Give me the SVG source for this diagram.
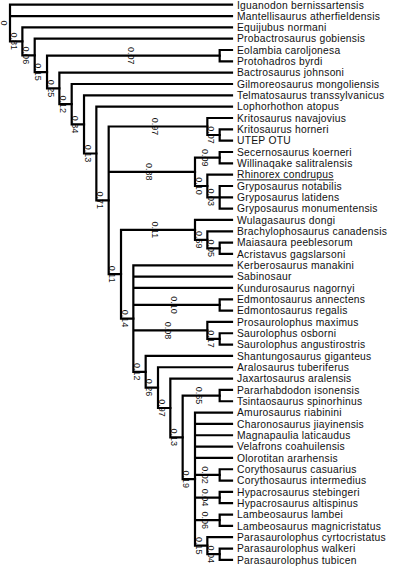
<svg xmlns="http://www.w3.org/2000/svg" width="394" height="567" viewBox="0 0 394 567">
<style>
.t{font-family:"Liberation Sans",Arial,sans-serif;font-size:10.3px;letter-spacing:0.25px;fill:#111}
.s{font-family:"Liberation Sans",Arial,sans-serif;font-size:9px;fill:#111;text-anchor:middle}
.c{fill:none;stroke:#000;stroke-width:2.2;stroke-linecap:square}
</style>
<rect width="394" height="567" fill="#fff"/>
<g id="support">
<text class="s" transform="translate(1.3,23.04) rotate(90)">0</text>
<text class="s" transform="translate(10.5,41.37) rotate(90)">0.81</text>
<text class="s" transform="translate(22.8,55.38) rotate(90)">0.06</text>
<text class="s" transform="translate(35.2,72.07) rotate(90)">0.15</text>
<text class="s" transform="translate(47.5,88.45) rotate(90)">0.25</text>
<text class="s" transform="translate(59.8,104.22) rotate(90)">0.12</text>
<text class="s" transform="translate(72.2,124.43) rotate(90)">0.34</text>
<text class="s" transform="translate(84.5,153.51) rotate(90)">0.13</text>
<text class="s" transform="translate(96.8,200.36) rotate(90)">0.71</text>
<text class="s" transform="translate(109.2,274.21) rotate(90)">0.11</text>
<text class="s" transform="translate(121.5,318.53) rotate(90)">0.14</text>
<text class="s" transform="translate(133.8,371.78) rotate(90)">0.12</text>
<text class="s" transform="translate(146.1,387.62) rotate(90)">0.26</text>
<text class="s" transform="translate(158.5,407.98) rotate(90)">0.97</text>
<text class="s" transform="translate(170.8,437.37) rotate(90)">0.13</text>
<text class="s" transform="translate(183.1,479.15) rotate(90)">0.19</text>
<text class="s" transform="translate(127.6,55.69) rotate(90)">0.07</text>
<text class="s" transform="translate(152.3,126.5) rotate(90)">0.97</text>
<text class="s" transform="translate(207.8,135) rotate(90)">0.07</text>
<text class="s" transform="translate(146.1,171.82) rotate(90)">0.88</text>
<text class="s" transform="translate(201.6,157.66) rotate(90)">0.09</text>
<text class="s" transform="translate(195.5,185.98) rotate(90)">0.10</text>
<text class="s" transform="translate(207.8,197.31) rotate(90)">0.03</text>
<text class="s" transform="translate(152.3,229.89) rotate(90)">0.11</text>
<text class="s" transform="translate(195.5,239.8) rotate(90)">0.59</text>
<text class="s" transform="translate(207.8,248.3) rotate(90)">0.05</text>
<text class="s" transform="translate(170.8,304.95) rotate(90)">0.10</text>
<text class="s" transform="translate(164.6,330.44) rotate(90)">0.08</text>
<text class="s" transform="translate(207.8,338.94) rotate(90)">0.17</text>
<text class="s" transform="translate(195.5,395.59) rotate(90)">0.65</text>
<text class="s" transform="translate(201.6,474.9) rotate(90)">0.02</text>
<text class="s" transform="translate(201.6,497.56) rotate(90)">0.04</text>
<text class="s" transform="translate(201.6,520.22) rotate(90)">0.06</text>
<text class="s" transform="translate(195.5,545.71) rotate(90)">0.15</text>
<text class="s" transform="translate(207.8,554.2) rotate(90)">0.04</text>
</g>
<g id="connectors" class="c">
<path d="M10 4.7V41.37M10 4.7H232M10 16.03H232M10 41.37H22.37"/>
<path d="M22.37 27.36V55.38M22.37 27.36H232M22.37 55.38H34.7"/>
<path d="M34.7 38.69V72.07M34.7 38.69H232M34.7 72.07H47.03"/>
<path d="M47.03 55.69V88.45M47.03 55.69H219.67M47.03 88.45H59.36"/>
<path d="M219.67 50.02V61.35M219.67 50.02H232M219.67 61.35H232"/>
<path d="M59.36 72.68V104.22M59.36 72.68H232M59.36 104.22H71.69"/>
<path d="M71.69 84.01V124.43M71.69 84.01H232M71.69 124.43H84.02"/>
<path d="M84.02 95.34V153.51M84.02 95.34H232M84.02 153.51H96.35"/>
<path d="M96.35 106.67V200.36M96.35 106.67H232M96.35 200.36H108.68"/>
<path d="M108.68 126.5V274.21M108.68 126.5H207.34M108.68 171.82H195M108.68 274.21H121.01"/>
<path d="M207.34 118V135M207.34 118H232M207.34 135H219.67"/>
<path d="M219.67 129.33V140.66M219.67 129.33H232M219.67 140.66H232"/>
<path d="M195 157.66V185.98M195 157.66H219.67M195 185.98H207.34"/>
<path d="M219.67 151.99V163.32M219.67 151.99H232M219.67 163.32H232"/>
<path d="M207.34 174.65V197.31M207.34 174.65H232M207.34 197.31H219.67"/>
<path d="M219.67 185.98V208.64M219.67 185.98H232M219.67 197.31H232M219.67 208.64H232"/>
<path d="M121.01 229.89V318.53M121.01 229.89H195M121.01 318.53H133.34"/>
<path d="M195 219.97V239.8M195 219.97H232M195 239.8H207.34"/>
<path d="M207.34 231.3V248.3M207.34 231.3H232M207.34 248.3H219.67"/>
<path d="M219.67 242.63V253.96M219.67 242.63H232M219.67 253.96H232"/>
<path d="M133.34 265.29V371.78M133.34 265.29H232M133.34 276.62H232M133.34 287.95H232M133.34 304.95H219.67M133.34 330.44H207.34M133.34 371.78H145.67"/>
<path d="M219.67 299.28V310.61M219.67 299.28H232M219.67 310.61H232"/>
<path d="M207.34 321.94V338.94M207.34 321.94H232M207.34 338.94H219.67"/>
<path d="M219.67 333.27V344.6M219.67 333.27H232M219.67 344.6H232"/>
<path d="M145.67 355.93V387.62M145.67 355.93H232M145.67 387.62H158"/>
<path d="M158 367.26V407.98M158 367.26H232M158 407.98H170.33"/>
<path d="M170.33 378.59V437.37M170.33 378.59H232M170.33 437.37H182.66"/>
<path d="M182.66 395.59V479.15M182.66 395.59H219.67M182.66 479.15H195"/>
<path d="M219.67 389.92V401.25M219.67 389.92H232M219.67 401.25H232"/>
<path d="M195 412.58V545.71M195 412.58H232M195 423.91H232M195 435.24H232M195 446.57H232M195 457.9H232M195 474.9H219.67M195 497.56H219.67M195 520.22H219.67M195 545.71H207.34"/>
<path d="M219.67 469.23V480.56M219.67 469.23H232M219.67 480.56H232"/>
<path d="M219.67 491.89V503.22M219.67 491.89H232M219.67 503.22H232"/>
<path d="M219.67 514.55V525.88M219.67 514.55H232M219.67 525.88H232"/>
<path d="M207.34 537.21V554.2M207.34 537.21H232M207.34 554.2H219.67"/>
<path d="M219.67 548.54V559.87M219.67 548.54H232M219.67 559.87H232"/>
</g>
<g id="taxa" class="t">
<g id="t01"><text x="237" y="9.0">Iguanodon bernissartensis</text></g>
<g id="t02"><text x="237" y="19.73">Mantellisaurus atherfieldensis</text></g>
<g id="t03"><text x="237" y="31.06">Equijubus normani</text></g>
<g id="t04"><text x="237" y="42.39">Probactrosaurus gobiensis</text></g>
<g id="t05"><text x="237" y="53.72">Eolambia caroljonesa</text></g>
<g id="t06"><text x="237" y="65.05">Protohadros byrdi</text></g>
<g id="t07"><text x="237" y="76.38">Bactrosaurus johnsoni</text></g>
<g id="t08"><text x="237" y="87.71">Gilmoreosaurus mongoliensis</text></g>
<g id="t09"><text x="237" y="99.04">Telmatosaurus transsylvanicus</text></g>
<g id="t10"><text x="237" y="110.37">Lophorhothon atopus</text></g>
<g id="t11"><text x="237" y="121.7">Kritosaurus navajovius</text></g>
<g id="t12"><text x="237" y="133.03">Kritosaurus horneri</text></g>
<g id="t13"><text x="237" y="144.36">UTEP OTU</text></g>
<g id="t14"><text x="237" y="155.69">Secernosaurus koerneri</text></g>
<g id="t15"><text x="237" y="167.02">Willinaqake salitralensis</text></g>
<g id="t16"><text x="237" y="178.35" text-decoration="underline">Rhinorex condrupus</text></g>
<g id="t17"><text x="237" y="189.68">Gryposaurus notabilis</text></g>
<g id="t18"><text x="237" y="201.01">Gryposaurus latidens</text></g>
<g id="t19"><text x="237" y="212.34">Gryposaurus monumentensis</text></g>
<g id="t20"><text x="237" y="223.67">Wulagasaurus dongi</text></g>
<g id="t21"><text x="237" y="235.0">Brachylophosaurus canadensis</text></g>
<g id="t22"><text x="237" y="246.33">Maiasaura peeblesorum</text></g>
<g id="t23"><text x="237" y="257.66">Acristavus gagslarsoni</text></g>
<g id="t24"><text x="237" y="268.99">Kerberosaurus manakini</text></g>
<g id="t25"><text x="237" y="280.32">Sabinosaur</text></g>
<g id="t26"><text x="237" y="291.65">Kundurosaurus nagornyi</text></g>
<g id="t27"><text x="237" y="302.98">Edmontosaurus annectens</text></g>
<g id="t28"><text x="237" y="314.31">Edmontosaurus regalis</text></g>
<g id="t29"><text x="237" y="325.64">Prosaurolophus maximus</text></g>
<g id="t30"><text x="237" y="336.97">Saurolophus osborni</text></g>
<g id="t31"><text x="237" y="348.3">Saurolophus angustirostris</text></g>
<g id="t32"><text x="237" y="359.63">Shantungosaurus giganteus</text></g>
<g id="t33"><text x="237" y="370.96">Aralosaurus tuberiferus</text></g>
<g id="t34"><text x="237" y="382.29">Jaxartosaurus aralensis</text></g>
<g id="t35"><text x="237" y="393.62">Pararhabdodon isonensis</text></g>
<g id="t36"><text x="237" y="404.95">Tsintaosaurus spinorhinus</text></g>
<g id="t37"><text x="237" y="416.28">Amurosaurus riabinini</text></g>
<g id="t38"><text x="237" y="427.61">Charonosaurus jiayinensis</text></g>
<g id="t39"><text x="237" y="438.94">Magnapaulia laticaudus</text></g>
<g id="t40"><text x="237" y="450.27">Velafrons coahuilensis</text></g>
<g id="t41"><text x="237" y="461.6">Olorotitan ararhensis</text></g>
<g id="t42"><text x="237" y="472.93">Corythosaurus casuarius</text></g>
<g id="t43"><text x="237" y="484.26">Corythosaurus intermedius</text></g>
<g id="t44"><text x="237" y="495.59">Hypacrosaurus stebingeri</text></g>
<g id="t45"><text x="237" y="506.92">Hypacrosaurus altispinus</text></g>
<g id="t46"><text x="237" y="518.25">Lambeosaurus lambei</text></g>
<g id="t47"><text x="237" y="529.58">Lambeosaurus magnicristatus</text></g>
<g id="t48"><text x="237" y="540.91">Parasaurolophus cyrtocristatus</text></g>
<g id="t49"><text x="237" y="552.24">Parasaurolophus walkeri</text></g>
<g id="t50"><text x="237" y="563.57">Parasaurolophus tubicen</text></g>
</g>
</svg>
